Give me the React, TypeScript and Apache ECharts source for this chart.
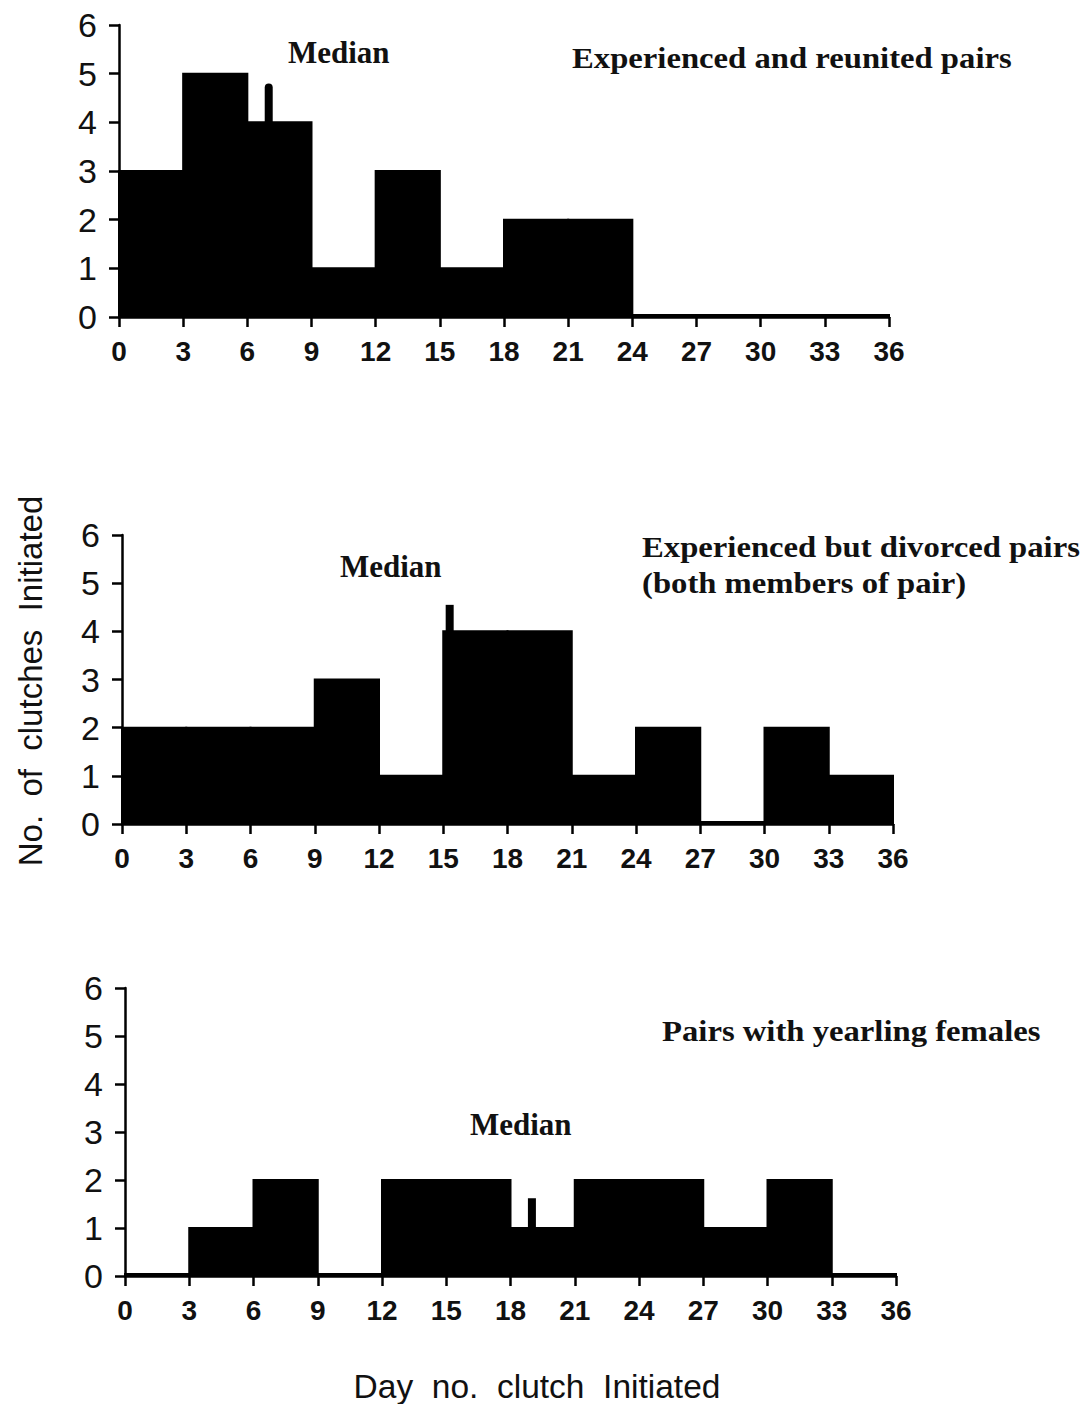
import React, { useEffect, useRef } from "react";
import * as echarts from "echarts";

// Bin edges (days) shared by all three panels
const binStarts = [0, 3, 6, 9, 12, 15, 18, 21, 24, 27, 30, 33];
const binWidth = 3;

// Number of clutches initiated per 3-day bin
const reunitedCounts = [3, 5, 4, 1, 3, 1, 2, 2, 0, 0, 0, 0];
const divorcedCounts = [2, 2, 2, 3, 1, 4, 4, 1, 2, 0, 2, 1];
const yearlingCounts = [0, 1, 2, 0, 2, 2, 1, 2, 2, 1, 2, 0];

// Median markers: day, bar height at base, top of marker
const medianDays = [7, 15.3, 19];
const medianBase = [4, 4, 1];
const medianTop = [4.8, 4.55, 1.62];

const panelTitles = [
  ["Experienced and reunited pairs"],
  ["Experienced but divorced pairs", "(both members of pair)"],
  ["Pairs with yearling females"],
];

export default function App() {
  const ref = useRef<HTMLDivElement>(null);
  useEffect(() => {
    if (!ref.current) return;
    const chart = echarts.init(ref.current, undefined, { renderer: "svg" });

    const grids = [
      { left: 119, top: 25, width: 770, height: 292 },
      { left: 122, top: 535, width: 771, height: 289 },
      { left: 125, top: 988, width: 771, height: 288 },
    ];
    const countsList = [reunitedCounts, divorcedCounts, yearlingCounts];

    const sans = "'Liberation Sans', Arial, Helvetica, sans-serif";
    const serif = "'Liberation Serif', 'Times New Roman', serif";

    const xAxes = grids.map((_, i) => ({
      type: "value",
      gridIndex: i,
      min: 0,
      max: 36,
      interval: 3,
      axisLine: { onZero: false, lineStyle: { color: "#000", width: 2.5 } },
      axisTick: { show: true, length: 10, lineStyle: { color: "#000", width: 2.5 } },
      splitLine: { show: false },
      axisLabel: {
        margin: 20,
        fontSize: 28,
        fontWeight: "bold",
        fontFamily: sans,
        color: "#111",
        formatter: (v: number) => String(v),
      },
    }));

    const yAxes = grids.map((_, i) => ({
      type: "value",
      gridIndex: i,
      min: 0,
      max: 6,
      interval: 1,
      axisLine: { show: true, lineStyle: { color: "#000", width: 2.5 } },
      axisTick: { show: true, length: 10, lineStyle: { color: "#000", width: 2.5 } },
      splitLine: { show: false },
      axisLabel: {
        margin: 22,
        fontSize: 34,
        fontFamily: sans,
        color: "#111",
      },
    }));

    const barSeries = countsList.map((counts, i) => ({
      type: "custom",
      xAxisIndex: i,
      yAxisIndex: i,
      data: binStarts.map((s, k) => [s, s + binWidth, counts[k]]),
      renderItem: (params: any, api: any) => {
        const p0 = api.coord([api.value(0), api.value(2)]);
        const p1 = api.coord([api.value(1), 0]);
        const h = p1[1] - p0[1];
        return {
          type: "rect",
          shape: { x: p0[0], y: h > 0 ? p0[1] : p1[1] - 2, width: p1[0] - p0[0], height: h > 0 ? h : 2 },
          style: { fill: "#000", stroke: "#000", lineWidth: 2 },
        };
      },
      z: 3,
    }));

    const medianSeries = medianDays.map((d, i) => ({
      type: "custom",
      xAxisIndex: i,
      yAxisIndex: i,
      data: [[d, medianBase[i], medianTop[i]]],
      renderItem: (params: any, api: any) => {
        const top = api.coord([api.value(0), api.value(2)]);
        const base = api.coord([api.value(0), api.value(1)]);
        return {
          type: "rect",
          shape: { x: top[0] - 4, y: top[1], width: 8, height: base[1] - top[1] + 2, r: i === 0 ? [4, 4, 0, 0] : 0 },
          style: { fill: "#000" },
        };
      },
      z: 4,
    }));

    const titleFont = `bold 30px ${serif}`;
    const medianFont = `bold 31px ${serif}`;
    const sx = 1.09;

    const graphics: any[] = [
      // Median labels
      { type: "text", x: 288, y: 37, style: { text: "Median", font: medianFont, fill: "#111" } },
      { type: "text", x: 340, y: 551, style: { text: "Median", font: medianFont, fill: "#111" } },
      { type: "text", x: 470, y: 1109, style: { text: "Median", font: medianFont, fill: "#111" } },
      // Panel titles
      { type: "text", x: 572, y: 43, scaleX: sx, style: { text: panelTitles[0][0], font: titleFont, fill: "#111" } },
      { type: "text", x: 642, y: 532, scaleX: sx, style: { text: panelTitles[1][0], font: titleFont, fill: "#111" } },
      { type: "text", x: 642, y: 568, scaleX: sx, style: { text: panelTitles[1][1], font: titleFont, fill: "#111" } },
      { type: "text", x: 662, y: 1016, scaleX: sx, style: { text: panelTitles[2][0], font: titleFont, fill: "#111" } },
      // Axis titles
      {
        type: "text",
        x: 30,
        y: 681,
        rotation: Math.PI / 2,
        style: {
          text: "No.  of  clutches  Initiated",
          font: `33px ${sans}`,
          fill: "#111",
          textAlign: "center",
          textVerticalAlign: "middle",
        },
      },
      {
        type: "text",
        x: 537,
        y: 1386,
        style: {
          text: "Day  no.  clutch  Initiated",
          font: `33.5px ${sans}`,
          fill: "#111",
          textAlign: "center",
          textVerticalAlign: "middle",
        },
      },
    ];

    chart.setOption({
      animation: false,
      backgroundColor: "#fff",
      grid: grids,
      xAxis: xAxes,
      yAxis: yAxes,
      series: [...barSeries, ...medianSeries],
      graphic: graphics,
    });
    return () => chart.dispose();
  }, []);

  return (
    <div
      ref={ref}
      style={{ position: "absolute", left: 0, top: 0, width: 1087, height: 1404, background: "#fff" }}
    />
  );
}
